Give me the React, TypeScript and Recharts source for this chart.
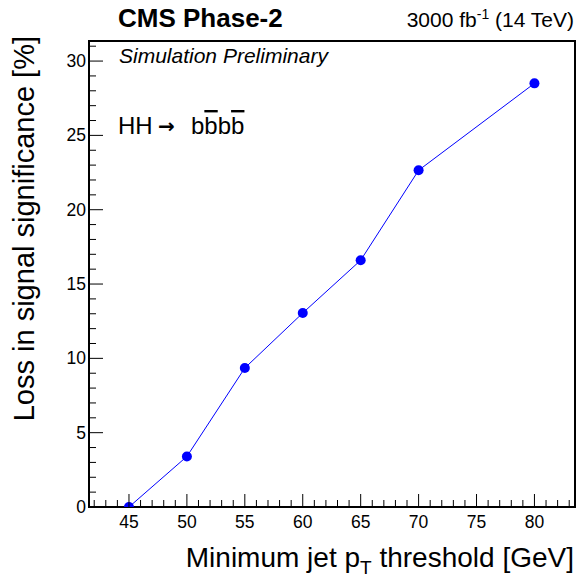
import React from "react";
import { ComposedChart, Line, XAxis, YAxis, ReferenceArea } from "recharts";

const thresholds = [45, 50, 55, 60, 65, 70, 80];
const lossValues = [0, 3.4, 9.35, 13.05, 16.6, 22.65, 28.5];
const xTicks = [42, 43, 44, 45, 46, 47, 48, 49, 50, 51, 52, 53, 54, 55, 56, 57, 58, 59, 60, 61, 62, 63, 64, 65, 66, 67, 68, 69, 70, 71, 72, 73, 74, 75, 76, 77, 78, 79, 80, 81, 82, 83];
const yTicks = [0, 1, 2, 3, 4, 5, 6, 7, 8, 9, 10, 11, 12, 13, 14, 15, 16, 17, 18, 19, 20, 21, 22, 23, 24, 25, 26, 27, 28, 29, 30, 31];
const xDomain = [41.55, 83.5];
const yDomain = [0, 31.35];

const data = thresholds.map((x, i) => ({ x, y: lossValues[i] }));

const FONT = "'Liberation Sans', Arial, Helvetica, sans-serif";

const XTick = (props: any) => {
  const { x, y, payload } = props;
  const v = payload.value;
  const major = v % 5 === 0;
  return (
    <g>
      <line x1={x} x2={x} y1={y} y2={y - (major ? 13 : 7)} stroke="#000" strokeWidth={1} />
      {major && (
        <text x={x} y={y + 21} textAnchor="middle" fontSize={17.5} fontFamily={FONT} fill="#000">
          {v}
        </text>
      )}
    </g>
  );
};

const YTick = (props: any) => {
  const { x, y, payload } = props;
  const v = payload.value;
  const major = v % 5 === 0;
  return (
    <g>
      <line x1={x} x2={x + (major ? 14 : 7)} y1={y} y2={y} stroke="#000" strokeWidth={1} />
      {major && (
        <text x={x - 3} y={y + 6} textAnchor="end" fontSize={17.5} fontFamily={FONT} fill="#000">
          {v}
        </text>
      )}
    </g>
  );
};

export default function App() {
  return (
    <div style={{ position: "absolute", left: 0, top: 0, width: 578, height: 585, background: "#fff" }}>
      <ComposedChart
        width={578}
        height={585}
        data={data}
        margin={{ top: 41, right: 3, bottom: 0, left: 0 }}
      >
        <XAxis
          type="number"
          dataKey="x"
          domain={xDomain}
          allowDataOverflow
          ticks={xTicks}
          interval={0}
          tickSize={0}
          tickMargin={0}
          axisLine={false}
          tickLine={false}
          tick={<XTick />}
          height={78}
        />
        <YAxis
          type="number"
          domain={yDomain}
          allowDataOverflow
          ticks={yTicks}
          interval={0}
          tickSize={0}
          tickMargin={0}
          axisLine={false}
          tickLine={false}
          tick={<YTick />}
          width={89}
        />
        <ReferenceArea
          x1={xDomain[0]}
          x2={xDomain[1]}
          y1={yDomain[0]}
          y2={yDomain[1]}
          fill="none"
          fillOpacity={0}
          stroke="#000"
          strokeWidth={2}
          ifOverflow="visible"
        />
        <Line
          type="linear"
          dataKey="y"
          stroke="#0000ff"
          strokeWidth={1}
          dot={{ r: 5, fill: "#0000ff", stroke: "none" }}
          isAnimationActive={false}
        />
      </ComposedChart>
      <svg
        width={578}
        height={585}
        style={{ position: "absolute", left: 0, top: 0, pointerEvents: "none" }}
        fontFamily={FONT}
      >
        <text x={118} y={27} fontSize={26} fontWeight="bold" fill="#000">
          CMS Phase-2
        </text>
        <text x={574} y={27} fontSize={21} textAnchor="end" fill="#000">
          3000 fb
          <tspan fontSize={14} dy={-8}>-1</tspan>
          <tspan dy={8}> (14 TeV)</tspan>
        </text>
        <text x={119} y={63} fontSize={21} fontStyle="italic" fill="#000">
          Simulation Preliminary
        </text>
        <text x={118} y={134} fontSize={24} fill="#000">HH</text>
        <text x={158} y={133} fontSize={20} fontWeight="bold" fontFamily="'DejaVu Sans', sans-serif" fill="#000">→</text>
        <text x={191} y={134} fontSize={24} fill="#000">
          b
          <tspan style={{ textDecoration: "overline" }}>b</tspan>
          b
          <tspan style={{ textDecoration: "overline" }}>b</tspan>
        </text>
        <text x={574} y={567} fontSize={28} textAnchor="end" fill="#000">
          Minimum jet p
          <tspan fontSize={19} dy={7}>T</tspan>
          <tspan dy={-7}> threshold [GeV]</tspan>
        </text>
        <text
          x={0}
          y={0}
          fontSize={29}
          textAnchor="end"
          fill="#000"
          transform="translate(34,36) rotate(-90)"
        >
          Loss in signal significance [%]
        </text>
      </svg>
    </div>
  );
}
